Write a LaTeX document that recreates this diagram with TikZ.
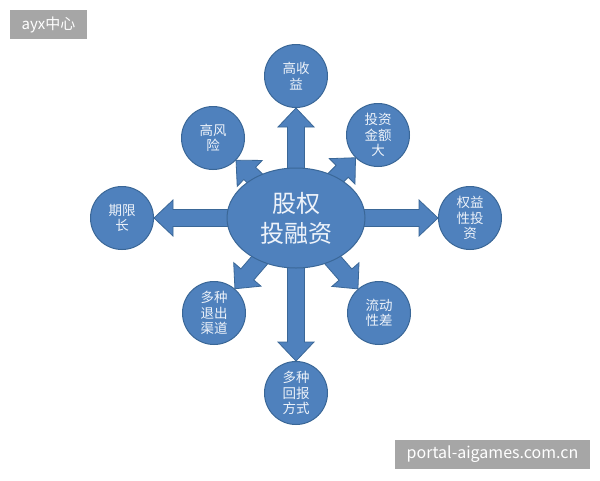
\documentclass[tikz,border=0pt]{standalone}
\usepackage{fontspec}
\setmainfont{Noto Sans CJK SC}
\usepackage{tikz}
\usetikzlibrary{positioning,calc,backgrounds,shapes.geometric}
\definecolor{NodeBlue}{HTML}{4F81BD}
\definecolor{EdgeBlue}{HTML}{3A6797}
\definecolor{TextLight}{HTML}{EEF3FA}
\definecolor{MarkGray}{HTML}{A6A6A6}

\begin{document}
\begin{tikzpicture}[x=1pt,y=-1pt,
    every node/.style={text=TextLight, align=center},
    leaf/.style={circle, draw=EdgeBlue, fill=NodeBlue, line width=1pt,
                 minimum size=63pt, inner sep=0pt,
                 font=\fontsize{13.5}{15.5}\selectfont},
    hub/.style={ellipse, draw=EdgeBlue, fill=NodeBlue, line width=1pt,
                minimum width=138pt, minimum height=100pt, inner sep=0pt,
                font=\fontsize{24}{30}\selectfont},
    wmark/.style={fill=MarkGray, text=white, inner sep=0pt,
                  font=\fontsize{15}{18}\selectfont},
    blockarrow/.style={draw=EdgeBlue, fill=NodeBlue, line width=0.8pt,
      line join=miter,
      to path={($(\tikztostart)!8.5pt!90:(\tikztotarget)$)
        -- ($(\tikztotarget)!51pt!(\tikztostart)!8.5pt!-90:(\tikztostart)$)
        -- ($(\tikztotarget)!51pt!(\tikztostart)!18pt!-90:(\tikztostart)$)
        -- ($(\tikztotarget)!32pt!(\tikztostart)$)
        -- ($(\tikztotarget)!51pt!(\tikztostart)!18pt!90:(\tikztostart)$)
        -- ($(\tikztotarget)!51pt!(\tikztostart)!8.5pt!90:(\tikztostart)$)
        -- ($(\tikztostart)!8.5pt!-90:(\tikztotarget)$) -- cycle}}]
  \useasboundingbox (0,0) rectangle (600,480);

  \node[hub]  (c)    at (296,218) {股权\\投融资};
  \node[leaf] (hi)   at (296,76)  {高收\\益};
  \node[leaf] (risk) at (213,138) {高风\\险};
  \node[leaf] (amt)  at (378,135) {投资\\金额\\大};
  \node[leaf] (term) at (122,218) {期限\\长};
  \node[leaf] (eq)   at (470,218) {权益\\性投\\资};
  \node[leaf] (exit) at (214,313) {多种\\退出\\渠道};
  \node[leaf] (liq)  at (379,313) {流动\\性差};
  \node[leaf] (ret)  at (296,393) {多种\\回报\\方式};

  \begin{scope}[on background layer]
    \fill[white] (0,0) rectangle (600,480);
    \foreach \n in {hi,risk,amt,term,eq,exit,liq,ret}
      \path[blockarrow] (c) to (\n);
  \end{scope}

  \node[wmark, minimum width=77pt, minimum height=29pt]
    (logo) at (48.5,24.5) {ayx中心};
  \node[wmark, minimum width=195pt, minimum height=29pt,
        font=\fontsize{16}{19}\selectfont]
    (site) at (492.5,454.5) {portal-aigames.com.cn};
\end{tikzpicture}
\end{document}
